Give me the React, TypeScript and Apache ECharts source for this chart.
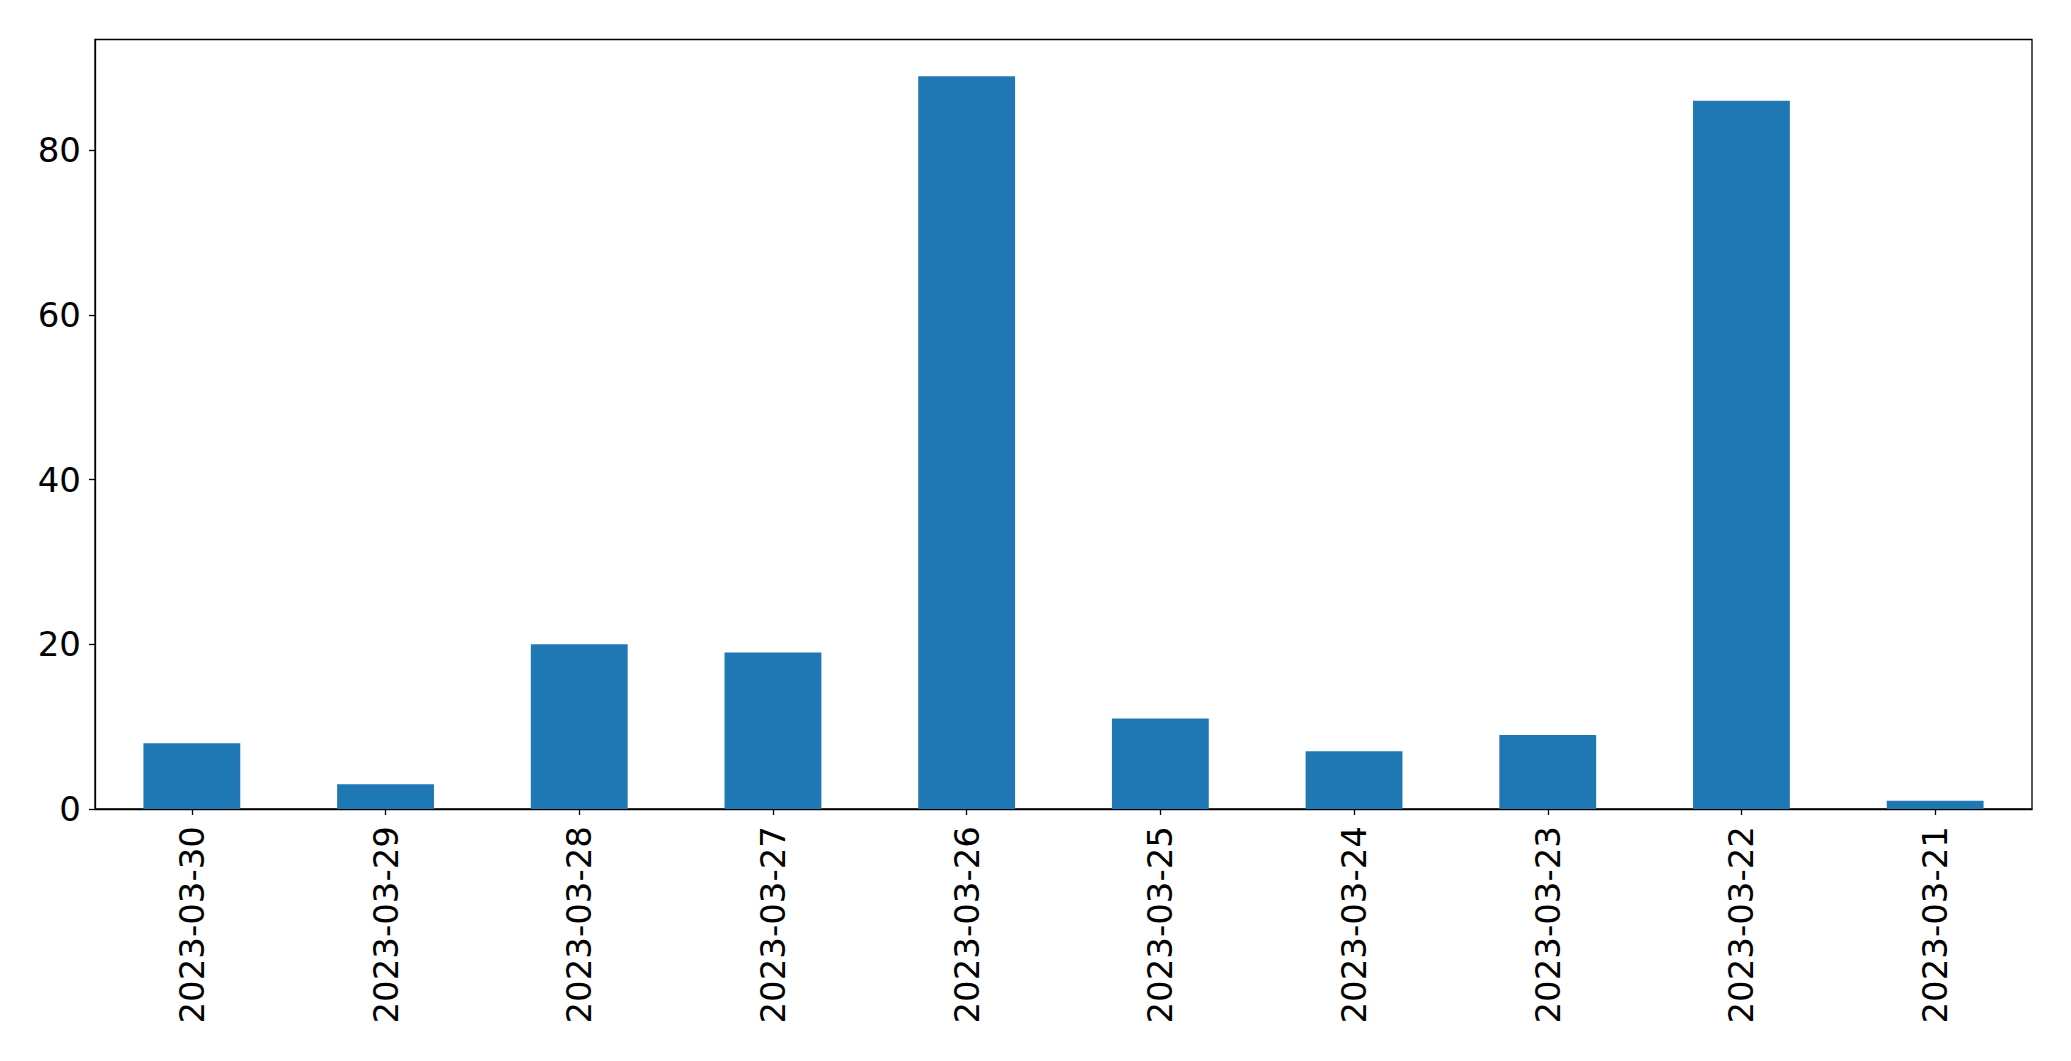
import React, { useEffect, useRef } from "react";
import * as echarts from "echarts";

const categories = [
  "2023-03-30", "2023-03-29", "2023-03-28", "2023-03-27", "2023-03-26",
  "2023-03-25", "2023-03-24", "2023-03-23", "2023-03-22", "2023-03-21",
];
const values = [8, 3, 20, 19, 89, 11, 7, 9, 86, 1];
const yTicks = [0, 20, 40, 60, 80];

export default function App() {
  const ref = useRef<HTMLDivElement>(null);
  useEffect(() => {
    document.body.style.margin = "0";
    const chart = echarts.init(ref.current!, null, { renderer: "svg" });
    const font = "DejaVu Sans";
    chart.setOption({
      animation: false,
      backgroundColor: "#ffffff",
      grid: {
        left: 95,
        top: 39.5,
        right: 39,
        bottom: 252,
        show: true,
        borderColor: "#000000",
        borderWidth: 1.3,
        backgroundColor: "transparent",
      },
      xAxis: {
        type: "category",
        data: categories,
        boundaryGap: true,
        axisLine: { show: true, lineStyle: { color: "#000", width: 1.3 } },
        axisTick: { show: true, alignWithLabel: true, length: 6, lineStyle: { color: "#000", width: 1.3 } },
        axisLabel: { rotate: 90, fontSize: 34, fontFamily: font, color: "#000", margin: 17, interval: 0 },
        splitLine: { show: false },
      },
      yAxis: {
        type: "value",
        min: 0,
        max: 93.45,
        interval: 20,
        axisLine: { show: true, lineStyle: { color: "#000", width: 1.3 } },
        axisTick: { show: true, length: 6, customValues: yTicks, lineStyle: { color: "#000", width: 1.3 } },
        axisLabel: { fontSize: 34, fontFamily: font, color: "#000", margin: 14, customValues: yTicks },
        splitLine: { show: false },
      },
      series: [
        {
          type: "bar",
          data: values,
          barWidth: "50%",
          itemStyle: { color: "#1f77b4" },
        },
      ],
    });
    return () => chart.dispose();
  }, []);
  return (
    <div
      ref={ref}
      style={{ position: "absolute", left: 0, top: 0, width: 2071, height: 1061 }}
    />
  );
}
